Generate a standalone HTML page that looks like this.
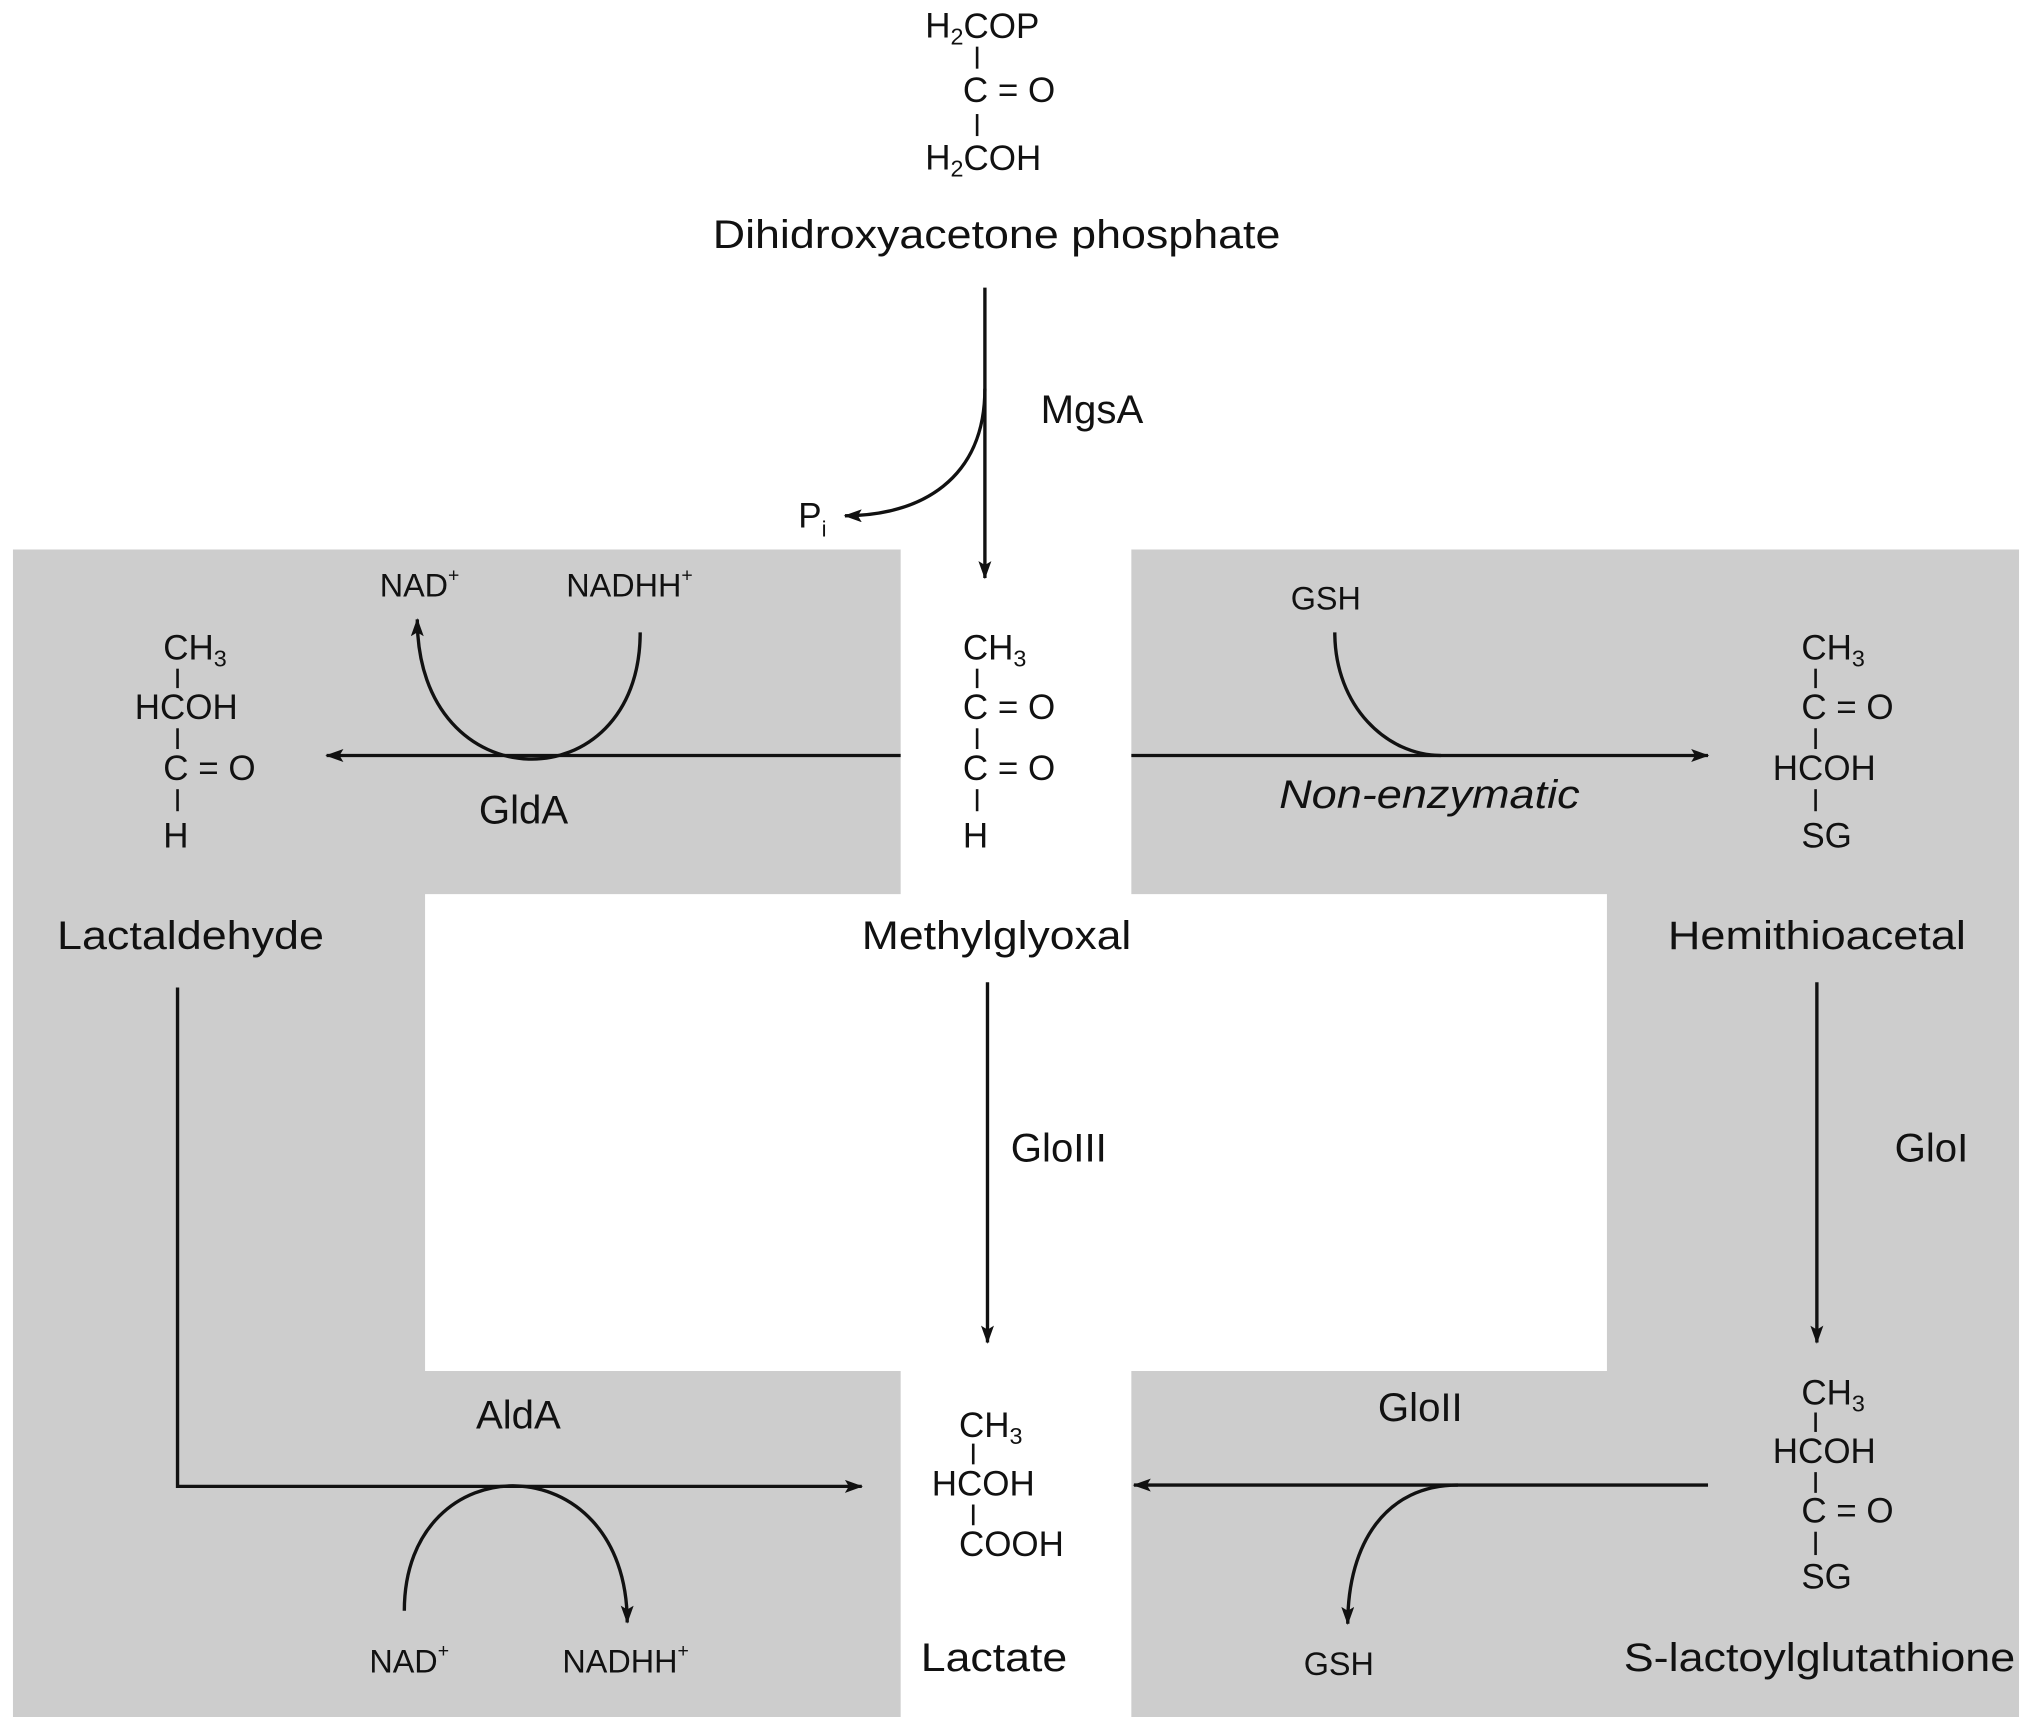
<!DOCTYPE html>
<html><head><meta charset="utf-8"><style>
html,body{margin:0;padding:0;background:#fff;}
svg{display:block;}
text{font-family:"Liberation Sans",Arial,sans-serif;fill:#111;}
.c{font-size:27px;}
.l{font-size:31px;}
.s{font-size:25px;}
</style></head><body>
<svg width="2032" height="1730" viewBox="0 0 1568 1335" preserveAspectRatio="none" xmlns="http://www.w3.org/2000/svg">
<defs>
<marker id="a" viewBox="0 0 14 10" refX="13" refY="5" markerWidth="14" markerHeight="10" markerUnits="userSpaceOnUse" orient="auto">
<path d="M0,0 L14,5 L0,10 L3,5 Z" fill="#111"/>
</marker>
</defs>
<rect width="1568" height="1335" fill="#fff"/>
<path d="M10,424 H695 V690 H328 V1058 H695 V1325 H10 Z" fill="#cdcdcd"/>
<path d="M873,424 H1558 V1325 H873 V1058 H1240 V690 H873 Z" fill="#cdcdcd"/>

<g stroke="#111" stroke-width="2.6" fill="none">
<line x1="760" y1="222" x2="760" y2="446" marker-end="url(#a)"/>
<path d="M760,300 C760,370 710,398 652,398" marker-end="url(#a)"/>
<line x1="695" y1="583" x2="252" y2="583" marker-end="url(#a)"/>
<path d="M494,488 C494,620 322,620 322,478" marker-end="url(#a)"/>
<line x1="873" y1="583" x2="1318" y2="583" marker-end="url(#a)"/>
<path d="M1030,488 C1030,545 1070,583 1112,583"/>
<line x1="762" y1="758" x2="762" y2="1036" marker-end="url(#a)"/>
<line x1="1402" y1="758" x2="1402" y2="1036" marker-end="url(#a)"/>
<path d="M137,762 V1147 H665" marker-end="url(#a)"/>
<path d="M312,1243 C312,1113 484,1113 484,1252" marker-end="url(#a)"/>
<line x1="1318" y1="1146" x2="875" y2="1146" marker-end="url(#a)"/>
<path d="M1125,1146 C1070,1146 1040,1190 1040,1253" marker-end="url(#a)"/>
</g>

<!-- bonds -->
<g stroke="#111" stroke-width="2">
<line x1="754" y1="36" x2="754" y2="53"/><line x1="754" y1="88" x2="754" y2="105"/>
<line x1="754" y1="516" x2="754" y2="531"/><line x1="754" y1="562" x2="754" y2="578"/><line x1="754" y1="609" x2="754" y2="626"/>
<line x1="137" y1="516" x2="137" y2="531"/><line x1="137" y1="562" x2="137" y2="578"/><line x1="137" y1="609" x2="137" y2="626"/>
<line x1="1401" y1="516" x2="1401" y2="531"/><line x1="1401" y1="562" x2="1401" y2="578"/><line x1="1401" y1="609" x2="1401" y2="626"/>
<line x1="751" y1="1114" x2="751" y2="1130"/><line x1="751" y1="1161" x2="751" y2="1177"/>
<line x1="1401" y1="1090" x2="1401" y2="1105"/><line x1="1401" y1="1136" x2="1401" y2="1152"/><line x1="1401" y1="1182" x2="1401" y2="1200"/>
</g>

<g dominant-baseline="central">
<!-- DHAP -->
<text class="c" x="714" y="20">H<tspan font-size="18" dy="8">2</tspan><tspan dy="-8">COP</tspan></text>
<text class="c" x="743" y="70">C = O</text>
<text class="c" x="714" y="122">H<tspan font-size="18" dy="8">2</tspan><tspan dy="-8">COH</tspan></text>
<text class="l" x="769" y="181" text-anchor="middle" textLength="438" lengthAdjust="spacingAndGlyphs">Dihidroxyacetone phosphate</text>
<text class="l" x="803" y="316">MgsA</text>
<text class="c" x="616" y="398">P<tspan font-size="17" dy="10">i</tspan></text>

<!-- left top -->
<text class="s" x="293" y="452">NAD<tspan font-size="15" dy="-8">+</tspan></text>
<text class="s" x="437" y="452">NADHH<tspan font-size="15" dy="-8">+</tspan></text>
<text class="c" x="126" y="500">CH<tspan font-size="18" dy="8">3</tspan></text>
<text class="c" x="104" y="546">HCOH</text>
<text class="c" x="126" y="593">C = O</text>
<text class="c" x="126" y="645">H</text>
<text class="l" x="404" y="625" text-anchor="middle">GldA</text>
<text class="l" x="147" y="722" text-anchor="middle" textLength="206" lengthAdjust="spacingAndGlyphs">Lactaldehyde</text>

<!-- methylglyoxal -->
<text class="c" x="743" y="500">CH<tspan font-size="18" dy="8">3</tspan></text>
<text class="c" x="743" y="546">C = O</text>
<text class="c" x="743" y="593">C = O</text>
<text class="c" x="743" y="645">H</text>
<text class="l" x="769" y="722" text-anchor="middle" textLength="208" lengthAdjust="spacingAndGlyphs">Methylglyoxal</text>

<!-- right top -->
<text class="s" x="996" y="462">GSH</text>
<text class="l" x="1103" y="613" text-anchor="middle" font-style="italic" textLength="232" lengthAdjust="spacingAndGlyphs">Non-enzymatic</text>
<text class="c" x="1390" y="500">CH<tspan font-size="18" dy="8">3</tspan></text>
<text class="c" x="1390" y="546">C = O</text>
<text class="c" x="1368" y="593">HCOH</text>
<text class="c" x="1390" y="645">SG</text>
<text class="l" x="1402" y="722" text-anchor="middle" textLength="230" lengthAdjust="spacingAndGlyphs">Hemithioacetal</text>

<text class="l" x="780" y="886">GloIII</text>
<text class="l" x="1462" y="886">GloI</text>

<!-- bottom left -->
<text class="l" x="400" y="1092" text-anchor="middle">AldA</text>
<text class="s" x="285" y="1282">NAD<tspan font-size="15" dy="-8">+</tspan></text>
<text class="s" x="434" y="1282">NADHH<tspan font-size="15" dy="-8">+</tspan></text>

<!-- lactate -->
<text class="c" x="740" y="1100">CH<tspan font-size="18" dy="8">3</tspan></text>
<text class="c" x="719" y="1145">HCOH</text>
<text class="c" x="740" y="1192">COOH</text>
<text class="l" x="767" y="1279" text-anchor="middle" textLength="113" lengthAdjust="spacingAndGlyphs">Lactate</text>

<!-- bottom right -->
<text class="l" x="1096" y="1086" text-anchor="middle">GloII</text>
<text class="s" x="1006" y="1284">GSH</text>
<text class="c" x="1390" y="1075">CH<tspan font-size="18" dy="8">3</tspan></text>
<text class="c" x="1368" y="1120">HCOH</text>
<text class="c" x="1390" y="1166">C = O</text>
<text class="c" x="1390" y="1217">SG</text>
<text class="l" x="1404" y="1279" text-anchor="middle" textLength="302" lengthAdjust="spacingAndGlyphs">S-lactoylglutathione</text>
</g>
</svg>
</body></html>
